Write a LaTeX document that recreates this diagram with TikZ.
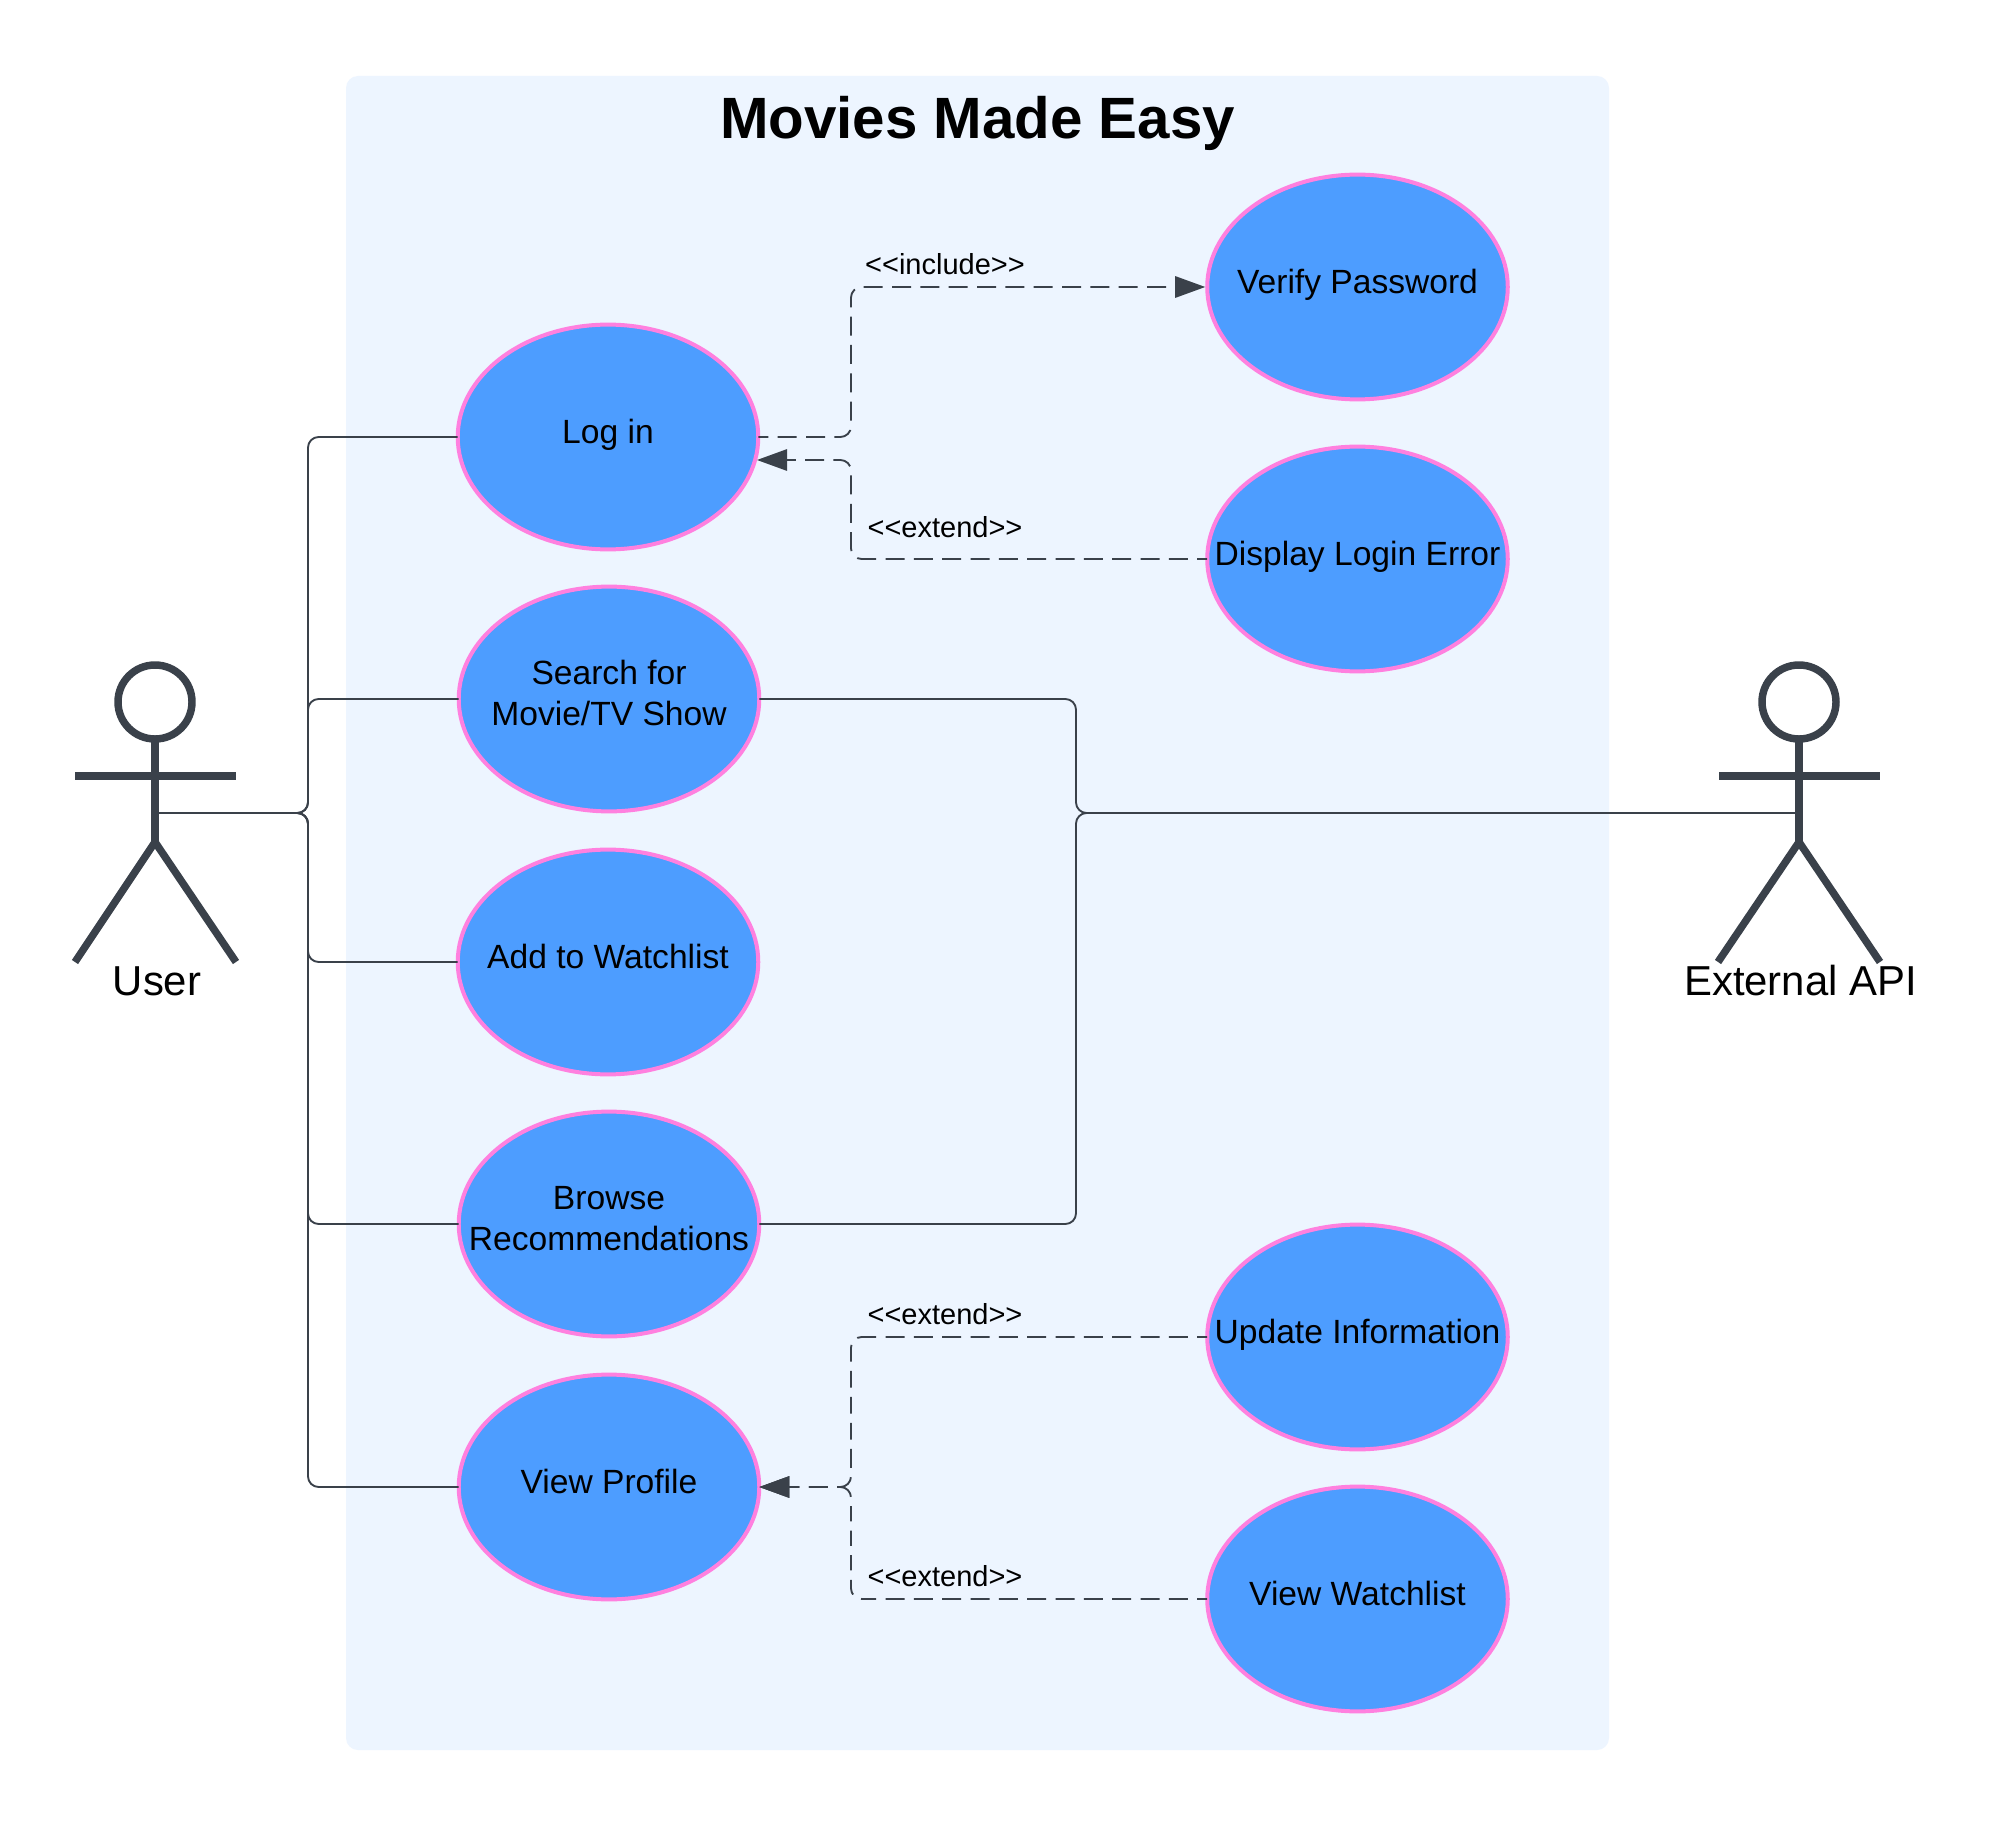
\documentclass[tikz,border=0pt]{standalone}
\usepackage{fontspec}
\setmainfont{Liberation Sans}
\usetikzlibrary{arrows.meta,shapes.geometric}
\definecolor{panel}{HTML}{EDF5FF}
\definecolor{ucfill}{HTML}{4D9DFF}
\definecolor{ucline}{HTML}{FF80DF}
\definecolor{ink}{HTML}{3A414A}
\newcommand{\uctext}[1]{\makebox[0pt][c]{\raisebox{-5.2pt}[0pt][0pt]{\begin{tabular}{@{}c@{}}#1\end{tabular}}}}
\newcommand{\uctwolines}[1]{\makebox[0pt][c]{\raisebox{-4.4pt}[0pt][0pt]{\begin{tabular}{@{}c@{}}#1\end{tabular}}}}
\newcommand{\lguil}{<\kern0pt<}
\newcommand{\rguil}{>\kern0pt>}
\tikzset{
  x=0.75pt, y=-0.75pt,
  usecase/.style={shape=ellipse, draw=ucline, fill=ucfill, line width=3pt, inner sep=0pt, outer sep=0pt,
    minimum width=225.4pt, minimum height=168.6pt, text=black,
    font=\fontsize{25.2}{30.5}\selectfont},
  solidlink/.style={draw=ink, line width=1.4pt, rounded corners=8pt},
  dashlink/.style={draw=ink, line width=1.4pt, rounded corners=8pt, dash pattern=on 14.25pt off 7pt, dash phase=6.7pt},
  opentip/.style={-{Triangle[length=22.5pt,width=16pt,fill=ink]}},
  actorline/.style={draw=ink, line width=5.6pt},
  actorname/.style={anchor=base, font=\fontsize{31.4}{36}\selectfont, text=black, inner sep=0pt},
  linklabel/.style={anchor=base, font=\fontsize{21.75}{26}\selectfont, text=black, inner sep=0pt},
  titletext/.style={anchor=base, font=\fontsize{43.7}{50}\bfseries\selectfont, text=black, inner sep=0pt},
  headshape/.style={shape=circle, draw=ink, line width=5.6pt, inner sep=0pt, outer sep=0pt, minimum size=55.5pt}
}
\begin{document}
\begin{tikzpicture}
\useasboundingbox (0,0) rectangle (1993,1826);
\fill[white] (0,0) rectangle (1993,1826);
\fill[panel, rounded corners=9pt] (346,76) rectangle (1609,1750);
\node[titletext] (title) at (977.5,139) {Movies Made Easy};

% use cases
\node[usecase] (login) at (608,437) {\uctext{Log in}};
\node[usecase] (search) at (609,699) {\uctwolines{Search for\\Movie/TV Show}};
\node[usecase] (watch) at (608,962) {\uctext{Add to Watchlist}};
\node[usecase] (browse) at (609,1224) {\uctwolines{Browse\\Recommendations}};
\node[usecase] (profile) at (609,1487) {\uctext{View Profile}};
\node[usecase] (verify) at (1357.5,287) {\uctext{Verify Password}};
\node[usecase] (error) at (1357.5,559) {\uctext{Display Login Error}};
\node[usecase] (update) at (1357.5,1337) {\uctext{Update Information}};
\node[usecase] (viewlist) at (1357.5,1599) {\uctext{View Watchlist}};

% actors
\node[headshape] (userhead) at (155,702) {};
\coordinate (userhub) at (155,842);
\coordinate (userhip) at (155,813);
\draw[actorline] (75,776) -- (236,776);
\draw[actorline] (userhead.south) -- (userhub);
\draw[actorline, line join=round] (75,962) -- (userhub) -- (236,962);
\node[actorname] (username) at (157,995.5) {User};

\node[headshape] (apihead) at (1799,702) {};
\coordinate (apihub) at (1799,842);
\coordinate (apihip) at (1799,813);
\draw[actorline] (1719,776) -- (1880,776);
\draw[actorline] (apihead.south) -- (apihub);
\draw[actorline, line join=round] (1718,962) -- (apihub) -- (1880,962);
\node[actorname] (apiname) at (1800.5,995.5) {External API};

% associations
\draw[solidlink] (userhip) -- (308,813) -- (308,437) -- (login.west);
\draw[solidlink] (userhip) -- (308,813) -- (308,699) -- (search.west);
\draw[solidlink] (userhip) -- (308,813) -- (308,962) -- (watch.west);
\draw[solidlink] (userhip) -- (308,813) -- (308,1224) -- (browse.west);
\draw[solidlink] (userhip) -- (308,813) -- (308,1487) -- (profile.west);
\draw[solidlink] (search.east) -- (1076,699) -- (1076,813) -- (apihip);
\draw[solidlink] (browse.east) -- (1076,1224) -- (1076,813) -- (apihip);

% dependencies
\coordinate (loginin) at (757,460);
\draw[dashlink, opentip, shorten >=1.5pt] (login.east) -- (851,437) -- (851,287) -- (verify.west);
\draw[dashlink, opentip] (error.west) -- (851,559) -- (851,460) -- (loginin);
\draw[dashlink, opentip, dash pattern=
  on 14.25pt off 7pt on 14.25pt off 7pt on 14.25pt off 7pt on 14.25pt off 7pt
  on 14.25pt off 7pt on 14.25pt off 7pt on 14.25pt off 7pt on 14.25pt off 7pt
  on 14.25pt off 7pt on 14.25pt off 7pt on 14.25pt off 7pt on 14.25pt off 7pt
  on 14.25pt off 7pt
  on 12.5pt off 7pt on 12.5pt off 7pt on 12.5pt off 7pt on 12.5pt off 7pt
  on 14.25pt off 7pt on 14.25pt off 7pt on 14.25pt off 7pt on 14.25pt off 7pt
  on 14.25pt off 7pt on 14.25pt off 7pt, dash phase=6.7pt]
  (update.west) -- (851,1337) -- (851,1487) -- (profile.east);
\draw[dashlink, opentip, dash pattern=
  on 14.25pt off 7pt on 14.25pt off 7pt on 14.25pt off 7pt on 14.25pt off 7pt
  on 14.25pt off 7pt on 14.25pt off 7pt on 14.25pt off 7pt on 14.25pt off 7pt
  on 14.25pt off 7pt on 14.25pt off 7pt on 14.25pt off 7pt on 14.25pt off 7pt
  on 11.4pt off 7pt on 11.4pt off 7pt on 11.4pt off 7pt on 11.4pt off 7pt on 11.4pt off 7pt
  on 14.25pt off 7pt on 14.25pt off 7pt on 14.25pt off 7pt on 14.25pt off 7pt
  on 14.25pt off 7pt on 14.25pt off 7pt, dash phase=6.7pt]
  (viewlist.west) -- (851,1599) -- (851,1487) -- (profile.east);

\node[linklabel] (l1) at (945,275) {\lguil include\rguil};
\node[linklabel] (l2) at (945,537.5) {\lguil extend\rguil};
\node[linklabel] (l3) at (945,1324) {\lguil extend\rguil};
\node[linklabel] (l4) at (945,1586.5) {\lguil extend\rguil};
\end{tikzpicture}
\end{document}
